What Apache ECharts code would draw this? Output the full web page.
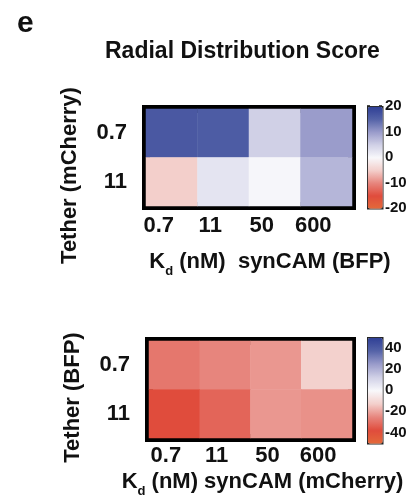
<!DOCTYPE html>
<html>
<head>
<meta charset="utf-8">
<script src="https://cdn.jsdelivr.net/npm/echarts@6/dist/echarts.min.js"></script>
<style>
  html, body { margin: 0; padding: 0; background: #fff; }
  #main { width: 410px; height: 499px; }
</style>
</head>
<body>
<div id="main"></div>
<script>
// 数据
var kdLabels = ['0.7', '11', '50', '600'];
var tetherLabels = ['0.7', '11'];
// 上图: Tether (mCherry) x synCAM (BFP)
var scoreTop07 = [16.5, 16, 5, 10];
var scoreTop11 = [-5, 2.5, 0.3, 7.5];
// 下图: Tether (BFP) x synCAM (mCherry)
var scoreBot07 = [-28, -25, -22, -12];
var scoreBot11 = [-37.5, -32, -22, -23];
var topTicks = [-20, -10, 0, 10, 20];
var botTicks = [-40, -20, 0, 20, 40];

var palette = ['#e3693a', '#e04c3c', '#e7857d', '#f3cfcb', '#f8f8fb',
               '#d0d0e6', '#9a9ccb', '#5563a8', '#2f3f95'];

function toCells(rows) {
    var out = [];
    for (var r = 0; r < rows.length; r++) {
        for (var c = 0; c < rows[r].length; c++) {
            out.push([c, r, rows[r][c]]);
        }
    }
    return out;
}

var FONT = 'Liberation Sans';
var ink = '#111';

function heatX(gridIndex, nameTail, padName, padLabel, margin, gap) {
    return {
        type: 'category', gridIndex: gridIndex, data: kdLabels,
        axisLine: { show: false }, axisTick: { show: false }, splitLine: { show: false },
        axisLabel: { color: ink, fontSize: 22, fontWeight: 'bold', fontFamily: FONT,
                     margin: margin, padding: [0, padLabel, 0, 0] },
        name: '{k|K}{d|d}{t|' + nameTail + '}',
        nameLocation: 'middle', nameGap: gap,
        nameTextStyle: {
            padding: [0, 0, 0, padName],
            rich: {
                k: { fontSize: 22, fontWeight: 'bold', fontFamily: FONT, color: ink },
                d: { fontSize: 13, fontWeight: 'bold', fontFamily: FONT, color: ink,
                     lineHeight: 32, verticalAlign: 'bottom' },
                t: { fontSize: 22, fontWeight: 'bold', fontFamily: FONT, color: ink }
            }
        }
    };
}

function heatY(gridIndex, name, shift) {
    return {
        type: 'category', gridIndex: gridIndex, data: tetherLabels, inverse: true,
        axisLine: { show: false }, axisTick: { show: false }, splitLine: { show: false },
        axisLabel: { color: ink, fontSize: 22, fontWeight: 'bold', fontFamily: FONT, margin: 19 },
        name: name, nameLocation: 'middle', nameRotate: 90, nameGap: 65,
        nameTextStyle: { color: ink, fontSize: 22, fontWeight: 'bold', fontFamily: FONT,
                         padding: [0, shift, 0, 0] }
    };
}

function barY(gridIndex, lo, hi, ticks, side) {
    return {
        type: 'value', gridIndex: gridIndex, min: lo, max: hi, position: side,
        axisLine: { show: false }, splitLine: { show: false },
        axisTick: { show: true, inside: true, length: 3, customValues: ticks,
                    lineStyle: { color: ink, width: 1.5 } },
        axisLabel: { show: side === 'right', inside: false, margin: 3, customValues: ticks,
                     color: ink, fontSize: 15, fontWeight: 'bold', fontFamily: FONT }
    };
}

var myChart = echarts.init(document.getElementById('main'));

var option = {
    backgroundColor: '#fff',
    animation: false,
    title: [
        { text: 'e', left: 12, top: 4,
          textStyle: { fontSize: 30, fontWeight: 'bold', fontFamily: FONT, color: ink } },
        { text: 'Radial Distribution Score', left: 100, top: 35,
          textStyle: { fontSize: 23, fontWeight: 'bold', fontFamily: FONT, color: ink } }
    ],
    grid: [
        { left: 146, top: 109, width: 206, height: 97, show: true,
          borderColor: '#000', borderWidth: 8, backgroundColor: 'transparent' },
        { left: 149, top: 341, width: 203, height: 99, show: true,
          borderColor: '#000', borderWidth: 8, backgroundColor: 'transparent' },
        { left: 367, top: 106, width: 15, height: 102 },
        { left: 367, top: 337, width: 15, height: 106 }
    ],
    xAxis: [
        heatX(0, ' (nM)  synCAM (BFP)', 42, 26, 9, 40),
        heatX(1, ' (nM) synCAM (mCherry)', 24, 17, 7, 28),
        { type: 'value', gridIndex: 2, show: false },
        { type: 'value', gridIndex: 3, show: false }
    ],
    yAxis: [
        heatY(0, 'Tether (mCherry)', 36),
        heatY(1, 'Tether (BFP)', 16),
        barY(2, -20, 20, topTicks, 'left'),
        barY(2, -20, 20, topTicks, 'right'),
        barY(3, -50, 50, botTicks, 'left'),
        barY(3, -50, 50, botTicks, 'right')
    ],
    visualMap: [
        { type: 'continuous', seriesIndex: 0, min: -20, max: 20, calculable: false,
          orient: 'vertical', left: 367, top: 106, itemWidth: 15, itemHeight: 102,
          padding: 0, borderColor: '#222', borderWidth: 1.5, text: null,
          inRange: { color: palette } },
        { type: 'continuous', seriesIndex: 1, min: -50, max: 50, calculable: false,
          orient: 'vertical', left: 367, top: 337, itemWidth: 15, itemHeight: 106,
          padding: 0, borderColor: '#222', borderWidth: 1.5, text: null,
          inRange: { color: palette } }
    ],
    series: [
        { type: 'heatmap', xAxisIndex: 0, yAxisIndex: 0,
          data: toCells([scoreTop07, scoreTop11]), emphasis: { disabled: true } },
        { type: 'heatmap', xAxisIndex: 1, yAxisIndex: 1,
          data: toCells([scoreBot07, scoreBot11]), emphasis: { disabled: true } }
    ]
};

myChart.setOption(option);
</script>
</body>
</html>
